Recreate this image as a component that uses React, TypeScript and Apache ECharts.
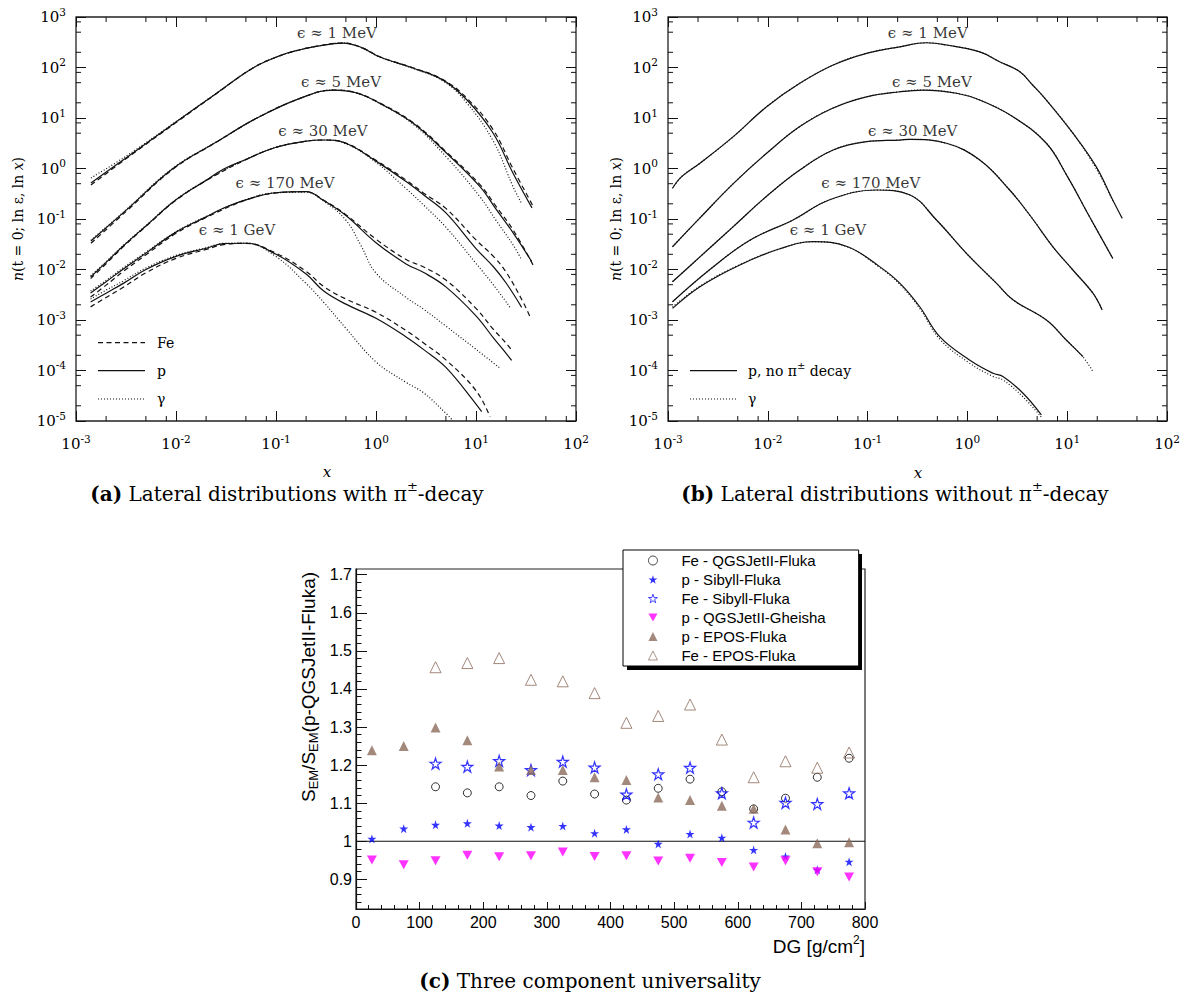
import React, { useEffect, useRef } from 'react';
import * as echarts from 'echarts';

const SERIF = '"DejaVu Serif", serif';
const SANS = '"Liberation Sans", Arial, sans-serif';
const INK = '#111';

// ---------- Panel (a): lateral distributions with pi decay ([x, n]) ----------
const A_1MEV_P = [[0.00141,0.517],[0.00316,1.62],[0.01,8.32],[0.0251,30.2],[0.0589,98],[0.11,172],[0.174,225],[0.251,262],[0.468,305],[0.708,251],[1.096,161],[2.34,97.7],[4.68,56.2],[8.13,22.7],[14.8,5.05],[23.4,0.815],[36.3,0.166]];
const A_1MEV_G = [[0.00141,0.65],[0.00316,1.75],[0.01,8.5],[0.0251,30.5],[0.0589,98],[0.11,172],[0.174,225],[0.251,262],[0.468,305],[0.708,250],[1.096,160],[2.34,96],[4.71,53.7],[8.07,20],[14.9,3.47],[23.6,0.427],[28.6,0.204]];
const A_1MEV_FE = [[0.00141,0.47],[0.00316,1.55],[0.01,8.1],[0.0251,30],[0.0589,98],[0.11,172],[0.174,225],[0.251,262],[0.468,305],[0.708,252],[1.096,163],[2.34,99],[4.68,57.5],[8.13,24.5],[14.8,5.9],[23.4,1.0],[37.2,0.18]];
const A_5MEV_P = [[0.00141,0.0366],[0.00316,0.148],[0.00933,1.0],[0.0251,3.31],[0.0646,10],[0.174,24.5],[0.372,35.8],[0.631,31.6],[1.096,19.5],[2.36,7.85],[5.09,2.0],[10.96,0.437],[15.8,0.158],[23.6,0.0525],[36.1,0.0143]];
const A_5MEV_G = [[0.00141,0.038],[0.00316,0.152],[0.00933,1.02],[0.0251,3.33],[0.0646,10],[0.174,24.5],[0.372,35.8],[0.631,31.4],[1.096,19.2],[2.36,7.5],[5.09,1.66],[10.96,0.275],[15.8,0.095],[23.6,0.0302],[28.6,0.0155]];
const A_5MEV_FE = [[0.00141,0.033],[0.00316,0.14],[0.00933,0.97],[0.0251,3.28],[0.0646,10],[0.174,24.5],[0.372,35.8],[0.631,31.7],[1.096,19.7],[2.36,8.1],[5.09,2.1],[10.96,0.48],[15.8,0.18],[23.6,0.06],[37.2,0.0123]];
const A_30MEV_P = [[0.0014,0.0071],[0.002,0.0138],[0.003,0.0299],[0.005,0.0728],[0.01,0.24],[0.02,0.582],[0.03,0.977],[0.05,1.51],[0.1,2.63],[0.2,3.47],[0.3,3.67],[0.5,3.16],[1,1.4],[2,0.55],[3,0.299],[5,0.132],[10,0.026],[15,0.0112],[20,0.0054],[28.6,0.00178]];
const A_30MEV_G = [[0.0014,0.0075],[0.002,0.0143],[0.003,0.0305],[0.005,0.074],[0.01,0.243],[0.02,0.585],[0.05,1.52],[0.1,2.63],[0.2,3.47],[0.3,3.67],[0.5,3.1],[1,1.32],[2,0.4],[3,0.188],[5,0.069],[10,0.0132],[15,0.0049],[21.9,0.00178]];
const A_30MEV_FE = [[0.0014,0.0066],[0.002,0.013],[0.003,0.0288],[0.005,0.071],[0.01,0.235],[0.02,0.575],[0.05,1.5],[0.1,2.62],[0.2,3.47],[0.3,3.67],[0.5,3.18],[1,1.45],[2,0.59],[3,0.324],[5,0.162],[10,0.0385],[15,0.018],[20,0.0089],[30,0.00214],[35.2,0.00108]];
const A_170MEV_P = [[0.0014,0.00343],[0.002,0.00571],[0.003,0.0104],[0.005,0.0211],[0.01,0.055],[0.02,0.11],[0.03,0.165],[0.05,0.24],[0.1,0.331],[0.2,0.347],[0.3,0.232],[0.5,0.117],[1,0.034],[2,0.0129],[3,0.0087],[5,0.00453],[10,0.00121],[15,0.000437],[20,0.000219],[22.7,0.000158]];
const A_170MEV_G = [[0.0014,0.00375],[0.002,0.0061],[0.003,0.011],[0.005,0.022],[0.01,0.056],[0.02,0.112],[0.05,0.242],[0.1,0.33],[0.2,0.34],[0.3,0.225],[0.5,0.095],[0.7,0.031],[1,0.0085],[2,0.0028],[3,0.00163],[5,0.000757],[10,0.000263],[17.4,0.000111]];
const A_170MEV_FE = [[0.0014,0.00285],[0.002,0.0049],[0.003,0.0093],[0.005,0.0195],[0.01,0.052],[0.02,0.107],[0.05,0.237],[0.1,0.33],[0.2,0.347],[0.3,0.236],[0.5,0.122],[1,0.0398],[2,0.0158],[3,0.0112],[5,0.00617],[10,0.0017],[15,0.000646],[20,0.000347],[23.4,0.000234]];
const A_1GEV_P = [[0.0014,0.00227],[0.002,0.00339],[0.003,0.00537],[0.005,0.01],[0.01,0.0182],[0.02,0.0263],[0.03,0.0324],[0.05,0.0331],[0.1,0.02],[0.2,0.00813],[0.3,0.00374],[0.5,0.00206],[1,0.00108],[2,0.000462],[3,0.000259],[5,0.000115],[10,2.17e-5],[11.4,1.53e-5]];
const A_1GEV_G = [[0.0014,0.0026],[0.002,0.0039],[0.003,0.006],[0.005,0.0107],[0.01,0.019],[0.02,0.027],[0.03,0.033],[0.05,0.0335],[0.1,0.018],[0.2,0.00528],[0.3,0.00224],[0.5,0.000684],[1,0.000148],[2,5.82e-5],[3,3.6e-5],[5,1.42e-5],[5.71,1.08e-5]];
const A_1GEV_FE = [[0.0014,0.00182],[0.002,0.0028],[0.003,0.0045],[0.005,0.0086],[0.01,0.0166],[0.02,0.025],[0.03,0.031],[0.05,0.033],[0.1,0.021],[0.2,0.0092],[0.3,0.0046],[0.5,0.0026],[1,0.00142],[2,0.00062],[3,0.00035],[5,0.000162],[10,4.0e-5],[13.8,1.22e-5]];

// ---------- Panel (b): without pi decay ----------
const B_1MEV_P = [[0.00111,0.406],[0.00137,0.689],[0.00209,1.27],[0.00451,4.27],[0.00973,16.7],[0.0209,48.6],[0.0452,112],[0.0975,191],[0.21,257],[0.389,309],[0.617,279],[1.33,204],[2.1,130],[3.33,83.2],[4.5,45],[6.18,22.7],[11.4,5.01],[19.5,1.09],[28.6,0.238],[35.6,0.103]];
const B_1MEV_G = [[0.00111,0.406],[0.00137,0.689],[0.00209,1.27],[0.00451,4.27],[0.00973,16.7],[0.0209,48.6],[0.0452,112],[0.0975,191],[0.21,257],[0.389,309],[0.617,279],[1.33,204],[2.1,130],[3.33,83.2],[4.5,45],[6.18,22.7],[11.4,5.01],[19.5,1.0],[28.6,0.23]];
const B_5MEV_P = [[0.00111,0.0282],[0.00209,0.105],[0.00451,0.501],[0.00973,2.0],[0.0209,6.76],[0.0452,15.8],[0.0975,26.3],[0.21,33.1],[0.36,35.8],[0.776,30.9],[1.33,22.7],[2.86,10.6],[6.18,3.16],[10,0.708],[16.7,0.112],[28.6,0.0166]];
const B_5MEV_G = [[0.00111,0.0282],[0.00209,0.105],[0.00451,0.501],[0.00973,2.0],[0.0209,6.76],[0.0452,15.8],[0.0975,26.3],[0.21,33.1],[0.36,35.8],[0.776,30.9],[1.33,22.7],[2.86,10.6],[6.18,3.16],[10,0.708],[16.7,0.112],[28.6,0.0166]];
const B_30MEV_P = [[0.00111,0.00573],[0.00209,0.0178],[0.00451,0.0708],[0.00973,0.282],[0.0209,0.933],[0.0452,2.32],[0.0975,3.4],[0.21,3.66],[0.264,3.78],[0.617,3.16],[1.33,1.47],[2.65,0.375],[4.21,0.12],[7.19,0.0282],[11.4,0.00977],[18.1,0.00339],[22.4,0.00158]];
const B_30MEV_G = [[0.00111,0.00573],[0.00209,0.0178],[0.00451,0.0708],[0.00973,0.282],[0.0209,0.933],[0.0452,2.32],[0.0975,3.4],[0.21,3.66],[0.264,3.78],[0.617,3.16],[1.33,1.47],[2.65,0.375],[4.21,0.12],[7.19,0.0282],[11.4,0.00977],[18.1,0.00339],[22.4,0.00158]];
const B_170MEV_P = [[0.00111,0.0023],[0.00263,0.01],[0.00661,0.038],[0.0179,0.0955],[0.0417,0.24],[0.123,0.375],[0.263,0.302],[0.49,0.0955],[0.977,0.0209],[1.95,0.00537],[2.86,0.00251],[6.18,0.001],[9.79,0.000402],[14.4,0.000188]];
const B_170MEV_G = [[0.00111,0.0023],[0.00263,0.01],[0.00661,0.038],[0.0179,0.0955],[0.0417,0.24],[0.123,0.375],[0.263,0.302],[0.49,0.0955],[0.977,0.0209],[1.95,0.00537],[2.86,0.00251],[6.18,0.001],[9.79,0.000402],[14.4,0.000185],[18.1,9.55e-5]];
const B_1GEV_P = [[0.00111,0.0017],[0.00209,0.00457],[0.00525,0.0123],[0.0132,0.0257],[0.0284,0.0355],[0.063,0.0282],[0.132,0.0114],[0.21,0.00537],[0.333,0.00183],[0.528,0.000468],[1.05,0.000162],[1.81,8.79e-5],[2.27,7.59e-5],[3.61,3.55e-5],[5.51,1.32e-5]];
const B_1GEV_G = [[0.00111,0.0018],[0.00209,0.0047],[0.00525,0.0125],[0.0132,0.0258],[0.0284,0.0355],[0.063,0.028],[0.132,0.011],[0.21,0.0051],[0.333,0.0017],[0.528,0.00042],[1.05,0.00014],[1.81,7.6e-5],[2.27,6.5e-5],[3.61,3.0e-5],[5.6,1.15e-5]];

// energy labels [x, y, text]
const A_LABELS = [[0.407,482,'ϵ ≈ 1 MeV'],[0.447,51.6,'ϵ ≈ 5 MeV'],[0.295,5.53,'ϵ ≈ 30 MeV'],[0.123,0.516,'ϵ ≈ 170 MeV'],[0.0407,0.0605,'ϵ ≈ 1 GeV']];
const B_LABELS = [[0.401,482,'ϵ ≈ 1 MeV'],[0.44,51.6,'ϵ ≈ 5 MeV'],[0.283,5.53,'ϵ ≈ 30 MeV'],[0.1076,0.516,'ϵ ≈ 170 MeV'],[0.04,0.0605,'ϵ ≈ 1 GeV']];

// log-axis minor tick positions
const MINOR_X = [0.002,0.005,0.008,0.02,0.05,0.08,0.2,0.5,0.8,2,5,8,20,50,80];
const MINOR_Y = [2e-5,5e-5,8e-5,2e-4,5e-4,8e-4,2e-3,5e-3,8e-3,0.02,0.05,0.08,0.2,0.5,0.8,2,5,8,20,50,80,200,500,800];

// ---------- Panel (c): three component universality ----------
const C_X = [25,75,125,175,225,275,325,375,425,475,525,575,625,675,725,775];
const C_FE_QGS = [null,null,1.143,1.127,1.143,1.120,1.158,1.124,1.108,1.139,1.163,1.130,1.085,1.113,1.168,1.218];
const C_P_SIB = [1.006,1.033,1.043,1.047,1.041,1.037,1.040,1.021,1.031,0.993,1.019,1.009,0.977,0.960,0.925,0.946];
const C_FE_SIB = [null,null,1.204,1.196,1.211,1.187,1.209,1.194,1.123,1.176,1.193,1.126,1.049,1.101,1.098,1.126];
const C_P_GHE = [0.951,0.938,0.949,0.963,0.959,0.962,0.972,0.960,0.962,0.948,0.955,0.944,0.932,0.949,0.920,0.906];
const C_P_EPOS = [1.239,1.250,1.299,1.265,1.196,1.187,1.187,1.168,1.161,1.115,1.108,1.093,1.085,1.031,0.995,0.997];
const C_FE_EPOS = [null,null,1.457,1.468,1.481,1.424,1.420,1.389,1.311,1.329,1.359,1.267,1.168,1.210,1.193,1.233];
const C_NAMES = ['Fe - QGSJetII-Fluka','p - Sibyll-Fluka','Fe - Sibyll-Fluka','p - QGSJetII-Gheisha','p - EPOS-Fluka','Fe - EPOS-Fluka'];
const C_MAJOR_Y = [0.9,1.0,1.1,1.2,1.3,1.4,1.5,1.6,1.7];
const C_MINOR_Y = [0.84,0.86,0.88,0.92,0.94,0.96,0.98,1.02,1.04,1.06,1.08,1.12,1.14,1.16,1.18,1.22,1.24,1.26,1.28,1.32,1.34,1.36,1.38,1.42,1.44,1.46,1.48,1.52,1.54,1.56,1.58,1.62,1.64,1.66,1.68];
const C_REF = [[0,1],[800,1]];

const STAR = 'path://M50,0 L61.2,34.5 L97.6,34.5 L68.2,55.9 L79.4,90.5 L50,69.1 L20.6,90.5 L31.8,55.9 L2.4,34.5 L38.8,34.5 Z';
const DOWN_TRI = 'path://M0,0 L100,0 L50,90 Z';
const BROWN = '#8c6b5b';

const SOLID = { type: 'solid', width: 1.2 };
const DASHED = { type: [5, 3.5], width: 1.2 };
const DOTTED = { type: [1, 2], width: 1.2 };

function curve(data: any, ls: any, g: number) {
  return {
    type: 'line', data, xAxisIndex: g * 2, yAxisIndex: g * 2,
    symbol: 'none', showSymbol: false, smooth: 0.4, silent: true, z: 3,
    lineStyle: { color: INK, ...ls },
  };
}

function labelSeries(items: any[], g: number) {
  return {
    type: 'scatter', xAxisIndex: g * 2, yAxisIndex: g * 2, silent: true, symbolSize: 1,
    itemStyle: { color: 'rgba(0,0,0,0)' },
    data: items.map((d) => ({ value: [d[0], d[1]], name: d[2] })),
    label: { show: true, position: 'inside', formatter: '{b}', fontFamily: SERIF, fontSize: 15, color: '#000' },
    z: 6,
  };
}

function minorTicks(vals: number[], g: number, dir: 'x' | 'y') {
  return {
    type: 'custom', xAxisIndex: g * 2, yAxisIndex: g * 2, silent: true, z: 5, clip: false,
    data: vals.map((v) => (dir === 'x' ? [v, 1] : [1, v])),
    renderItem: (params: any, api: any) => {
      const cs = params.coordSys;
      const p = api.coord([api.value(0), api.value(1)]);
      const L = 5;
      const st = { stroke: INK, lineWidth: 1 };
      if (dir === 'x') {
        return { type: 'group', children: [
          { type: 'line', shape: { x1: p[0], y1: cs.y + cs.height, x2: p[0], y2: cs.y + cs.height - L }, style: st },
          { type: 'line', shape: { x1: p[0], y1: cs.y, x2: p[0], y2: cs.y + L }, style: st },
        ] };
      }
      return { type: 'group', children: [
        { type: 'line', shape: { x1: cs.x, y1: p[1], x2: cs.x + L, y2: p[1] }, style: st },
        { type: 'line', shape: { x1: cs.x + cs.width, y1: p[1], x2: cs.x + cs.width - L, y2: p[1] }, style: st },
      ] };
    },
  };
}

const powRich = {
  b: { fontFamily: SERIF, fontSize: 15, lineHeight: 22, color: '#000' },
  s: { fontFamily: SERIF, fontSize: 10.5, lineHeight: 8, verticalAlign: 'top', color: '#000' },
};
const powFmt = (v: number) => `{b|10}{s|${Math.round(Math.log10(v))}}`;

function logX(g: number, pos: 'bottom' | 'top') {
  return {
    type: 'log', logBase: 10, gridIndex: g, position: pos, min: 0.001, max: 100, splitNumber: 5,
    axisLine: { show: false }, splitLine: { show: false },
    axisTick: { show: true, inside: true, length: 10, lineStyle: { color: INK, width: 1 } },
    axisLabel: pos === 'bottom' ? { show: true, formatter: powFmt, rich: powRich, margin: 12 } : { show: false },
  };
}
function logY(g: number, pos: 'left' | 'right') {
  return {
    type: 'log', logBase: 10, gridIndex: g, position: pos, min: 1e-5, max: 1000, splitNumber: 8,
    axisLine: { show: false }, splitLine: { show: false },
    axisTick: { show: true, inside: true, length: 10, lineStyle: { color: INK, width: 1 } },
    axisLabel: pos === 'left' ? { show: true, formatter: powFmt, rich: powRich, margin: 10, align: 'right' } : { show: false },
  };
}

function scatterPts(vals: (number | null)[]) {
  const out: number[][] = [];
  vals.forEach((v, i) => { if (v !== null) out.push([C_X[i], v]); });
  return out;
}

const hollow = (c: string, w: number) => ({ color: 'rgba(255,255,255,0)', borderColor: c, borderWidth: w });

export default function App() {
  const ref = useRef<HTMLDivElement>(null);
  useEffect(() => {
    document.body.style.margin = '0';
    const chart = echarts.init(ref.current!, null, { renderer: 'svg' });
    const yTitle = (x: number) => ({
      type: 'text', x, y: 219, rotation: Math.PI / 2,
      style: {
        text: '{i|n}(t = 0; ln ε, ln {i|x})', fontFamily: SERIF, fontSize: 14, fill: '#000',
        align: 'center', verticalAlign: 'middle',
        rich: { i: { fontFamily: SERIF, fontSize: 14, fontStyle: 'italic', fill: '#000' } },
      },
    });
    const capRich = {
      b: { fontFamily: SERIF, fontSize: 20, fontWeight: 'bold', lineHeight: 28, fill: '#000' },
      n: { fontFamily: SERIF, fontSize: 20, lineHeight: 28, fill: '#000' },
      s: { fontFamily: SERIF, fontSize: 13, lineHeight: 13, verticalAlign: 'top', fill: '#000' },
    };
    const legLine = (x1: number, y: number, dash: any) => ({
      type: 'line', shape: { x1, y1: y, x2: x1 + 47, y2: y },
      style: { stroke: INK, lineWidth: 1.2, lineDash: dash },
    });
    const legText = (x: number, y: number, text: string) => ({
      type: 'text', x, y,
      style: { text, fontFamily: SERIF, fontSize: 14, fill: '#000', verticalAlign: 'middle',
        rich: { n: { fontFamily: SERIF, fontSize: 14, lineHeight: 20, fill: '#000' }, s: { fontFamily: SERIF, fontSize: 10, lineHeight: 10, verticalAlign: 'top', fill: '#000' } } },
    });

    const option: any = {
      animation: false,
      backgroundColor: '#fff',
      grid: [
        { left: 76, top: 17, width: 500, height: 404, show: true, borderColor: '#222', borderWidth: 1.3, backgroundColor: 'transparent' },
        { left: 668, top: 17, width: 499, height: 404, show: true, borderColor: '#222', borderWidth: 1.3, backgroundColor: 'transparent' },
        { left: 356, top: 569, width: 509, height: 340, show: true, borderColor: '#222', borderWidth: 1.2, backgroundColor: 'transparent' },
      ],
      xAxis: [
        logX(0, 'bottom'), logX(0, 'top'), logX(1, 'bottom'), logX(1, 'top'),
        {
          type: 'value', gridIndex: 2, min: 0, max: 800, interval: 100, position: 'bottom',
          axisLine: { show: true, lineStyle: { color: INK, width: 1.2 } }, splitLine: { show: false },
          axisTick: { show: true, inside: true, length: 7, lineStyle: { color: INK } },
          minorTick: { show: true, splitNumber: 5, length: 4, lineStyle: { color: INK } },
          axisLabel: { fontFamily: SANS, fontSize: 16, color: '#000', margin: 5 },
        },
      ],
      yAxis: [
        logY(0, 'left'), logY(0, 'right'), logY(1, 'left'), logY(1, 'right'),
        {
          type: 'value', gridIndex: 2, min: 0.822, max: 1.715, position: 'left',
          axisLine: { show: true, lineStyle: { color: INK, width: 1.2 } }, splitLine: { show: false },
          axisTick: { show: true, inside: true, length: 11, customValues: C_MAJOR_Y, lineStyle: { color: INK } },
          axisLabel: { customValues: C_MAJOR_Y, fontFamily: SANS, fontSize: 16, color: '#000', margin: 4,
            formatter: (v: number) => (Math.abs(v - 1) < 1e-9 ? '1' : v.toFixed(1)) },
        },
        {
          type: 'value', gridIndex: 2, min: 0.822, max: 1.715, position: 'left',
          axisLine: { show: false }, splitLine: { show: false },
          axisTick: { show: true, inside: true, length: 5.5, customValues: C_MINOR_Y, lineStyle: { color: INK } },
          axisLabel: { show: false },
        },
      ],
      legend: {
        data: C_NAMES, orient: 'vertical', left: 623, top: 550, itemWidth: 9, itemHeight: 9, itemGap: 0,
        padding: [1, 33, 1, 25], backgroundColor: '#fff', borderColor: '#000', borderWidth: 1, z: 10,
        itemStyle: { borderWidth: 0.9 },
        textStyle: { fontFamily: SANS, fontSize: 15, color: '#000', lineHeight: 19, padding: [0, 0, 0, 19] },
        selectedMode: false,
      },
      graphic: [
        { type: 'rect', shape: { x: 627, y: 554, width: 235, height: 116 }, style: { fill: '#000' }, z: 9 },
        yTitle(18), yTitle(616),
        { type: 'text', x: 327, y: 472, style: { text: 'x', fontFamily: SERIF, fontSize: 15, fontStyle: 'italic', fill: '#000', align: 'center', verticalAlign: 'middle' } },
        { type: 'text', x: 918, y: 473, style: { text: 'x', fontFamily: SERIF, fontSize: 15, fontStyle: 'italic', fill: '#000', align: 'center', verticalAlign: 'middle' } },
        legLine(98, 342.7, [5, 3.5]), legLine(98, 370.7, null), legLine(98, 399, [1, 2]),
        legText(157, 342.7, '{n|Fe}'), legText(157, 370.7, '{n|p}'), legText(157, 399, '{n|γ}'),
        legLine(690, 370.7, null), legLine(690, 399, [1, 2]),
        legText(748, 370.7, '{n|p, no π}{s|±}{n| decay}'), legText(748, 399, '{n|γ}'),
        { type: 'text', x: 287, y: 494, style: { text: '{b|(a)}{n| Lateral distributions with π}{s|±}{n|-decay}', align: 'center', verticalAlign: 'middle', rich: capRich } },
        { type: 'text', x: 895, y: 494, style: { text: '{b|(b)}{n| Lateral distributions without π}{s|±}{n|-decay}', align: 'center', verticalAlign: 'middle', rich: capRich } },
        { type: 'text', x: 590, y: 981, style: { text: '{b|(c)}{n| Three component universality}', align: 'center', verticalAlign: 'middle', rich: capRich } },
        {
          type: 'text', x: 308, y: 687, rotation: Math.PI / 2,
          style: {
            text: '{m|S}{u|EM}{m|/S}{u|EM}{m|(p-QGSJetII-Fluka)}', align: 'center', verticalAlign: 'middle',
            rich: {
              m: { fontFamily: SANS, fontSize: 19, lineHeight: 24, fill: '#000' },
              u: { fontFamily: SANS, fontSize: 13, lineHeight: 13, verticalAlign: 'bottom', fill: '#000' },
            },
          },
        },
        {
          type: 'text', x: 865, y: 946,
          style: {
            text: '{m|DG [g/cm}{s|2}{m|]}', align: 'right', verticalAlign: 'middle',
            rich: {
              m: { fontFamily: SANS, fontSize: 19, lineHeight: 24, fill: '#000' },
              s: { fontFamily: SANS, fontSize: 12, lineHeight: 10, verticalAlign: 'top', fill: '#000' },
            },
          },
        },
      ],
      series: [
        curve(A_1MEV_FE, DASHED, 0), curve(A_1MEV_P, SOLID, 0), curve(A_1MEV_G, DOTTED, 0),
        curve(A_5MEV_FE, DASHED, 0), curve(A_5MEV_P, SOLID, 0), curve(A_5MEV_G, DOTTED, 0),
        curve(A_30MEV_FE, DASHED, 0), curve(A_30MEV_P, SOLID, 0), curve(A_30MEV_G, DOTTED, 0),
        curve(A_170MEV_FE, DASHED, 0), curve(A_170MEV_P, SOLID, 0), curve(A_170MEV_G, DOTTED, 0),
        curve(A_1GEV_FE, DASHED, 0), curve(A_1GEV_P, SOLID, 0), curve(A_1GEV_G, DOTTED, 0),
        curve(B_1MEV_P, SOLID, 1), curve(B_1MEV_G, DOTTED, 1),
        curve(B_5MEV_P, SOLID, 1), curve(B_5MEV_G, DOTTED, 1),
        curve(B_30MEV_P, SOLID, 1), curve(B_30MEV_G, DOTTED, 1),
        curve(B_170MEV_P, SOLID, 1), curve(B_170MEV_G, DOTTED, 1),
        curve(B_1GEV_P, SOLID, 1), curve(B_1GEV_G, DOTTED, 1),
        labelSeries(A_LABELS, 0), labelSeries(B_LABELS, 1),
        minorTicks(MINOR_X, 0, 'x'), minorTicks(MINOR_Y, 0, 'y'),
        minorTicks(MINOR_X, 1, 'x'), minorTicks(MINOR_Y, 1, 'y'),
        {
          type: 'line', xAxisIndex: 4, yAxisIndex: 4, data: C_REF, symbol: 'none', silent: true,
          lineStyle: { color: INK, width: 1.2 }, z: 2,
        },
        { name: C_NAMES[0], type: 'scatter', xAxisIndex: 4, yAxisIndex: 4, data: scatterPts(C_FE_QGS), symbol: 'circle', symbolSize: 8, itemStyle: hollow('#000', 1) },
        { name: C_NAMES[1], type: 'scatter', xAxisIndex: 4, yAxisIndex: 4, data: scatterPts(C_P_SIB), symbol: STAR, symbolSize: 9, itemStyle: { color: '#0000ff' } },
        { name: C_NAMES[2], type: 'scatter', xAxisIndex: 4, yAxisIndex: 4, data: scatterPts(C_FE_SIB), symbol: STAR, symbolSize: 11, itemStyle: hollow('#0000ff', 1.2) },
        { name: C_NAMES[3], type: 'scatter', xAxisIndex: 4, yAxisIndex: 4, data: scatterPts(C_P_GHE), symbol: DOWN_TRI, symbolSize: [10, 9], itemStyle: { color: '#ff00ff' } },
        { name: C_NAMES[4], type: 'scatter', xAxisIndex: 4, yAxisIndex: 4, data: scatterPts(C_P_EPOS), symbol: 'triangle', symbolSize: 10, itemStyle: { color: BROWN } },
        { name: C_NAMES[5], type: 'scatter', xAxisIndex: 4, yAxisIndex: 4, data: scatterPts(C_FE_EPOS), symbol: 'triangle', symbolSize: 11, itemStyle: hollow(BROWN, 1) },
      ],
    };
    chart.setOption(option);
    return () => chart.dispose();
  }, []);
  return <div ref={ref} style={{ width: 1192, height: 1001 }} />;
}
